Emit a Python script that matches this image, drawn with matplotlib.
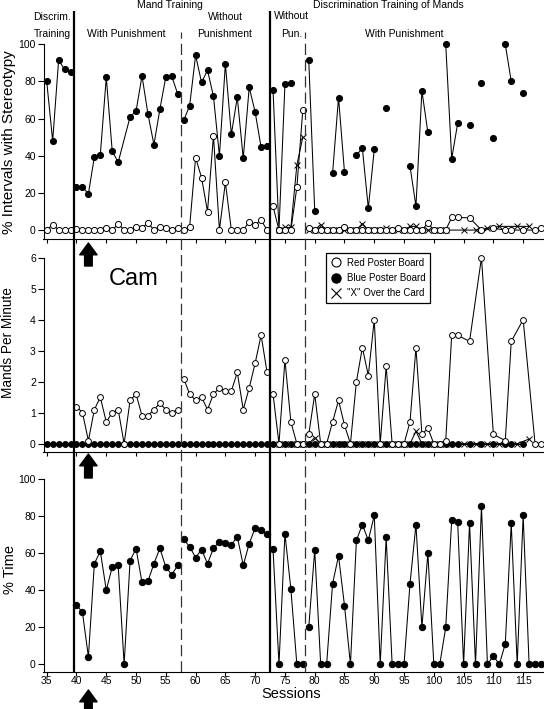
import numpy as np
import matplotlib
matplotlib.use("Agg")
import matplotlib.pyplot as plt
from matplotlib.lines import Line2D

plt.rcParams['font.family'] = ['Liberation Sans', 'DejaVu Sans']

nan = np.nan

# ---------------- Data ----------------
# Top panel: % intervals with stereotypy
top_blue_sessions = (list(range(35, 48)) + list(range(49, 116)))
top_blue_values = ([80, 48, 91.5, 86.5, 85, 23.3, 23.3, 19.5, 39.5, 40.5, 82.2, 42.5, 36.5]
                   + [61, 64, 83, 62.5, 46, 65, 82.5, 82.7, 73.2]
                   + [59, 67, 94, 79.5, 86, 72, 40, 89.5, 51.5, 71.5, 38.6, 76.8, 63.5, 44.5, 45]
                   + [75.5, 0, 78.5, 79, nan, nan]
                   + [91.5, 10.5, nan, nan, 30.5, 71.3, 31.2, nan, 40.2, 44.2, 11.7, 43.4]
                   + [nan, 65.7, nan, nan, nan, 34.3, 12.9, 74.9, 52.6, nan, nan, 100]
                   + [38.4, 57.4, nan, 56.7, nan, 79.3, nan, 49.7, nan, 100, 80, nan, 73.8])

top_red_sessions = list(range(35, 105)) + [106, 108, 110, 112, 113, 115, 117, 118]
top_red_values = ([0, 3, 0, 0, 0]
                  + [0.7, 0, 0, 0, 0, 1.3, 0, 3.2, 0, 0, 1.8, 1.2, 3.9, 0, 1.8, 1.3, 0, 1.3]
                  + [0, 1.8, 39, 28.2, 10, 50.8, 0, 25.7, 0, 0, 0, 4.5, 2.9, 5.4, 0]
                  + [12.8, 0, 0, 0, 23, 64.6]
                  + [1.3, 0, 0, 0, 0, 0, 1.8, 0, 0, 0, 0, 0, 0, 0, 0, 1.3, 0, 0, 0, 0, 3.8, 0, 0, 0, 6.8, 6.8]
                  + [6.6, 0, 1, 0, 0, 0, 0, 1])

x_sessions = list(range(74, 103)) + [105, 107, 109, 111, 114, 116]
top_x_values = ([0, 1.4, 1.4, 35, 50]
                + [0, 0, 3, 0, 0, 0, 0, 0, 0, 3.5, 0, 0, 0, 1, 0, 0, 0, 2, 2, 0, 0, 0, 0, 0]
                + [0, 0, 1, 2, 2, 2])

# Middle panel: mands per minute
mid_red_sessions = list(range(40, 105)) + [106, 108, 110, 112, 113, 115, 117, 118]
mid_red_values = ([1.2, 1.0, 0.1, 1.1, 1.5, 0.7, 1.0, 1.1, 0, 1.4, 1.6, 0.9, 0.9, 1.1, 1.3, 1.1, 1.0, 1.1]
                  + [2.1, 1.6, 1.4, 1.5, 1.1, 1.6, 1.8, 1.7, 1.7, 2.3, 1.1, 1.8, 2.6, 3.5, 2.3]
                  + [1.6, 0, 2.7, 0.7, 0, 0]
                  + [0.3, 1.6, 0, 0, 0.7, 1.4, 0.6, 0, 2.0, 3.1, 2.2, 4.0, 0, 2.5, 0, 0, 0, 0.7, 3.1, 0.3, 0.5, 0, 0, 0.1, 3.5, 3.5]
                  + [3.3, 6.0, 0.3, 0.1, 3.3, 4.0, 0, 0])

mid_blue_sessions = list(range(35, 105)) + [106, 108, 110, 112, 113, 115]
mid_blue_values = ([0, 0, 0, 0, 0]
                   + [0, 0, 0, 0, 0, 0, 0, 0, 0, 0, 0, 0, 0, 0, 0, 0, 0, 0]
                   + [0, 0, 0, 0, 0, 0, 0, 0, 0, 0, 0, 0, 0, 0, 0]
                   + [0, 0, 0, 0, 0, 0]
                   + [0, 0, 0, 0, 0, 0, 0, 0, 0, 0, 0, 0, 0, 0, 0, 0, 0, 0, 0, 0, 0, 0, 0, 0, 0, 0]
                   + [0, 0, 0, 0, 0, 0])

mid_x_values = ([0, 0, 0, 0, 0]
                + [0, 0.2, 0, 0, 0, 0, 0, 0, 0, 0, 0, 0, 0, 0, 0, 0, 0, 0, 0.4, 0, 0, 0, 0, 0]
                + [0, 0, 0, 0, 0, 0.15])

# Bottom panel: % time
bot_sessions = list(range(40, 119))
bot_values = ([32, 28, 4, 54.3, 61, 40, 52.5, 53.4, 0, 56, 62.4, 44.2, 44.8, 54.3, 62.6, 52.5, 48.4, 53.4]
              + [67.4, 63.5, 57.6, 61.9, 54.3, 62.6, 66.2, 65.3, 64.4, 68.9, 53.4, 65.1, 73.6, 72.5, 70.1]
              + [62, 0, 70.5, 40.5, 0, 0]
              + [20, 61.7, 0, 0, 43.5, 58.5, 31.7, 0, 66.9, 75.4, 66.9, 80.4, 0, 68.5, 0, 0, 0, 43.5,
                 75.4, 20, 60, 0, 0, 20, 77.7, 77, 0, 76.1, 0, 85.3, 0, 4.5, 0, 11, 76, 0, 80.4, 0, 0, 0])

phase_solid = [39.5, 72.5]
phase_dashed = [57.5, 78.3]
arrow_session = 42
x_ticks = list(range(35, 120, 5))

# ---------------- Layout ----------------
W, H = 544, 709
fig = plt.figure(figsize=(W / 100, H / 100), dpi=100)

def fx(px):
    return px / W

def fy(py):
    return 1 - py / H

left = fx(43.5)
width = 1 - left
XLIM = (34.46, 118.5)

ax_top = fig.add_axes([left, fy(239), width, (239 - 44.3) / H])
ax_mid = fig.add_axes([left, fy(451.7), width, (451.7 - 257.7) / H])
ax_bot = fig.add_axes([left, fy(671.7), width, (671.7 - 479) / H])

ax_top.set_ylim(-4.8, 100)
ax_mid.set_ylim(-0.258, 6)
ax_bot.set_ylim(-4.0, 100)

for ax, ytop in ((ax_top, 100), (ax_mid, 6), (ax_bot, 100)):
    ax.set_xlim(*XLIM)
    ax.set_facecolor('none')
    for s in ('top', 'right'):
        ax.spines[s].set_visible(False)
    for s in ('left', 'bottom'):
        ax.spines[s].set_linewidth(0.8)
    ax.spines['left'].set_bounds(ax.get_ylim()[0], ytop)
    ax.set_xticks(x_ticks)
    ax.tick_params(axis='y', direction='out', length=4, width=0.8, labelsize=7.5, pad=1.5)
    ax.tick_params(axis='x', direction='out', length=3, width=0.8, labelsize=7.5, pad=0.3)

ax_top.set_yticks([0, 20, 40, 60, 80, 100])
ax_mid.set_yticks([0, 1, 2, 3, 4, 5, 6])
ax_bot.set_yticks([0, 20, 40, 60, 80, 100])
ax_top.tick_params(labelbottom=False)
ax_mid.tick_params(labelbottom=False)

bounds = [34, 39.5, 57.5, 72.5, 78.3, 119]

def plot_series(ax, xs, ys, marker, mfc, ms=4.4, z=3, mew=0.7):
    xs = np.asarray(xs, float)
    ys = np.asarray(ys, float)
    for lo, hi in zip(bounds[:-1], bounds[1:]):
        m = (xs > lo) & (xs < hi)
        if m.any():
            ax.plot(xs[m], ys[m], color='black', lw=0.75, marker=marker, ms=ms,
                    mfc=mfc, mec='black', mew=mew, clip_on=False, zorder=z)

plot_series(ax_top, top_blue_sessions, top_blue_values, 'o', 'black', z=3)
plot_series(ax_top, x_sessions, top_x_values, 'x', 'black', ms=4.0, z=4)
plot_series(ax_top, top_red_sessions, top_red_values, 'o', 'white', z=5)

plot_series(ax_mid, mid_blue_sessions, mid_blue_values, 'o', 'black', ms=4.2, z=3)
plot_series(ax_mid, x_sessions, mid_x_values, 'x', 'black', ms=4.0, z=4)
plot_series(ax_mid, mid_red_sessions, mid_red_values, 'o', 'white', ms=4.2, z=5)

plot_series(ax_bot, bot_sessions, bot_values, 'o', 'black', ms=4.6, z=3)

# Phase-change lines spanning all panels
ov = fig.add_axes([left, fy(671.7), width, 671.7 / H])
ov.set_xlim(*XLIM)
ov.set_ylim(671.7, 0)
ov.axis('off')
for xs in phase_solid:
    ov.plot([xs, xs], [671.7, 11], color='black', lw=1.6, solid_capstyle='butt')
for xs in phase_dashed:
    ov.plot([xs, xs], [671.7, 32], color='#333333', lw=0.9, dashes=(9, 4))

# Arrows
for ytip, ytail in ((243, 266), (454, 478), (690, 715)):
    ax_top.annotate('', xy=(arrow_session, fy(ytip)), xycoords=('data', 'figure fraction'),
                    xytext=(arrow_session, fy(ytail)), textcoords=('data', 'figure fraction'),
                    arrowprops=dict(facecolor='black', edgecolor='black', width=5.5,
                                    headwidth=12.5, headlength=8.5, shrink=0),
                    annotation_clip=False)

# Phase labels
fs = 7.5
fig.text(fx(169.5), fy(5), 'Mand Training', ha='center', va='center', fontsize=fs)
fig.text(fx(52), fy(17), 'Discrim.', ha='center', va='center', fontsize=fs)
fig.text(fx(52), fy(34), 'Training', ha='center', va='center', fontsize=fs)
fig.text(fx(126.5), fy(34), 'With Punishment', ha='center', va='center', fontsize=fs)
fig.text(fx(225.5), fy(17), 'Without', ha='center', va='center', fontsize=fs)
fig.text(fx(225), fy(34), 'Punishment', ha='center', va='center', fontsize=fs)
fig.text(fx(291), fy(16), 'Without', ha='center', va='center', fontsize=fs)
fig.text(fx(292), fy(34), 'Pun.', ha='center', va='center', fontsize=fs)
fig.text(fx(388), fy(5), 'Discrimination Training of Mands', ha='center', va='center', fontsize=fs)
fig.text(fx(404), fy(34), 'With Punishment', ha='center', va='center', fontsize=fs)

# Axis labels
fig.text(fx(9), fy(142), '% Intervals with Stereotypy', rotation=90, ha='center', va='center', fontsize=11)
fig.text(fx(8), fy(343), 'Mands Per Minute', rotation=90, ha='center', va='center', fontsize=9.8)
fig.text(fx(10), fy(570), '% Time', rotation=90, ha='center', va='center', fontsize=10.5)
fig.text(fx(291), fy(694), 'Sessions', ha='center', va='center', fontsize=10.5)

fig.text(fx(133.7), fy(279), 'Cam', ha='center', va='center', fontsize=17)

# Legend
handles = [Line2D([], [], ls='none', marker='o', mfc='white', mec='black', ms=6.5, mew=0.8),
           Line2D([], [], ls='none', marker='o', mfc='black', mec='black', ms=6.5),
           Line2D([], [], ls='none', marker='x', color='black', ms=6.5, mew=0.8)]
labels = ['Red Poster Board', 'Blue Poster Board', '"X" Over the Card']
leg = fig.legend(handles, labels, loc='upper left', bbox_to_anchor=(fx(325.7), fy(253.3)),
                 frameon=True, fancybox=False, edgecolor='black', framealpha=1,
                 fontsize=7, borderpad=0.45, handletextpad=0.5, labelspacing=0.55,
                 handlelength=1.2, borderaxespad=0)
leg.get_frame().set_linewidth(0.9)

fig.savefig('out.png', dpi=100)
